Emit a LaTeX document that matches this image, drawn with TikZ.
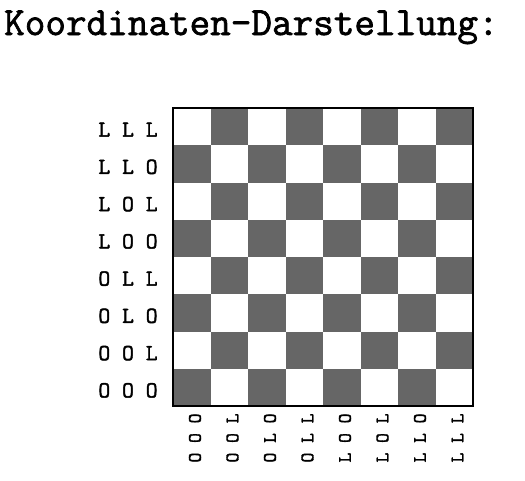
\documentclass[tikz,border=0pt]{standalone}
\usepackage{fontspec}
\newfontfamily\typew{Latin Modern Mono}[FakeBold=1.8]
\begin{document}
\begin{tikzpicture}[x=1pt,y=-1pt,
  rowlab/.style={font=\fontsize{23}{23}\typew, inner sep=0pt},
  collab/.style={font=\fontsize{19}{19}\typew, inner sep=0pt, rotate=90},
  darkcell/.style={fill=black!60}]
\useasboundingbox (0,0) rectangle (525,480);

\node [anchor=base west, font=\fontsize{40}{40}\typew, inner sep=0pt] (title) at (4,35) {Koordinaten-Darstellung:};

% dark squares
\foreach \i in {0,...,7} {
  \pgfmathtruncatemacro\s{mod(\i,2)}
  \foreach \j in {0,2,4,6} {
    \fill [darkcell] ({173+37.5*\i},{406-37.25*(\j+\s)}) rectangle ++(37.5,-37.25);
  }
}
\draw [line width=1.6pt] (173,108) rectangle (473,406);

\foreach \lab [count=\k from 0] in {L L L, L L O, L O L, L O O, O L L, O L O, O O L, O O O} {
  \node [rowlab] (row\k) at (128,{111+37.25*(\k+0.5)}) {\lab};
}
\foreach \lab [count=\k from 0] in {O O O, O O L, O L O, O L L, L O O, L O L, L L O, L L L} {
  \node [collab] (col\k) at ({195+37.5*\k},438) {\lab};
}

\end{tikzpicture}
\end{document}
